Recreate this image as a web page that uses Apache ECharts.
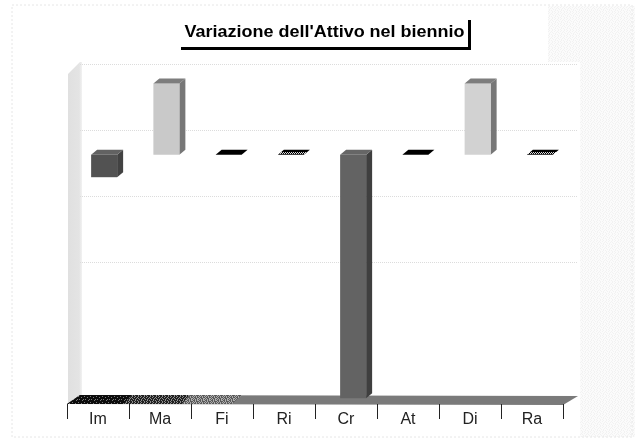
<!DOCTYPE html>
<html>
<head>
<meta charset="utf-8">
<style>
html, body { margin: 0; padding: 0; background: #fff; }
#chart { width: 635px; height: 441px; }
</style>
<script src="https://cdn.jsdelivr.net/npm/echarts@6/dist/echarts.min.js"></script>
</head>
<body>
<div id="chart"></div>
<script>
const categories = ['Im', 'Ma', 'Fi', 'Ri', 'Cr', 'At', 'Di', 'Ra'];
const values = [-340, 1075, 0, 0, -3680, 0, 1075, 0];
const titleText = "Variazione dell'Attivo nel biennio";

// small repeated tile, the scan of the original is dithered
const makeTile = (bg, fg, rows) => {
    const c = document.createElement('canvas');
    c.width = rows[0].length;
    c.height = rows.length;
    const ctx = c.getContext('2d');
    ctx.fillStyle = bg;
    ctx.fillRect(0, 0, c.width, c.height);
    ctx.fillStyle = fg;
    rows.forEach((row, y) => {
        row.split('').forEach((ch, x) => {
            if (ch === '#') ctx.fillRect(x, y, 1, 1);
        });
    });
    return { image: c, repeat: 'repeat' };
};
const sparse = ['#.....', '...#..', '......', '.#...#', '....#.', '......'];
const medium = ['#..#..', '..#..#', '#...#.', '.#.#..', '...#.#', '#.#...'];
const dense = ['#.#.#.', '.#..#.', '#.#..#', '.#.#.#', '#..#.#', '.#.#..'];
const stripes = ['......', '......', '.#.#.#', '#.#.#.', '......', '......'];

const floorDark = makeTile('#0c0c0c', '#7a7a7a', sparse);
const floorMid = makeTile('#202020', '#8c8c8c', medium);
const floorLight = makeTile('#5a5a5a', '#adadad', dense);
const paperGrey = makeTile('#fbfbfb', '#f2f2f2', medium);
const hatch = makeTile('#000000', '#d8d8d8', stripes);

// shading per category: front, side, top
const shades = {
    Im: ['#525252', '#424242', '#626262'],
    Ma: ['#c9c9c9', '#777777', '#7d7d7d'],
    Fi: ['#000000', '#000000', '#000000'],
    Ri: ['#000000', '#000000', hatch],
    Cr: ['#636363', '#3f3f3f', '#666666'],
    At: ['#000000', '#000000', '#000000'],
    Di: ['#d2d2d2', '#777777', '#7d7d7d'],
    Ra: ['#000000', '#000000', hatch]
};

// fake 3d: the bars stand in front of the wall plane where the axis lives
const shiftX = -7, shiftY = 24.5, barW = 26, depthX = 6, depthY = -5;

const renderBar = (params, api) => {
    const cat = api.value(0);
    const base = api.coord([cat, 0]);
    const end = api.coord([cat, api.value(1)]);
    const left = base[0] + shiftX - barW / 2;
    const right = left + barW;
    const y0 = base[1] + shiftY;
    const y1 = end[1] + shiftY;
    const topY = Math.min(y0, y1);
    const botY = Math.max(y0, y1);
    const c = shades[categories[cat]];
    const children = [];
    if (botY - topY > 0.5) {
        children.push({
            type: 'polygon',
            shape: { points: [[right, topY], [right + depthX, topY + depthY], [right + depthX, botY + depthY], [right, botY]] },
            style: { fill: c[1] }
        });
        children.push({
            type: 'rect',
            shape: { x: left, y: topY, width: barW, height: botY - topY },
            style: { fill: c[0] }
        });
    }
    children.push({
        type: 'polygon',
        shape: { points: [[left, topY], [left + depthX, topY + depthY], [right + depthX, topY + depthY], [right, topY]] },
        style: { fill: c[2] }
    });
    return { type: 'group', children: children };
};

const chart = echarts.init(document.getElementById('chart'));
chart.setOption({
    animation: false,
    backgroundColor: '#ffffff',
    textStyle: { fontFamily: 'Liberation Sans' },
    grid: [
        { left: 80, right: 57, top: 64, bottom: 46 },
        { left: 67, right: 72, top: 64, bottom: 37 }
    ],
    xAxis: [
        { type: 'category', gridIndex: 0, data: categories, axisLine: { show: false }, axisTick: { show: false }, axisLabel: { show: false }, splitLine: { show: false } },
        {
            type: 'category', gridIndex: 1, data: categories,
            axisLine: { show: false },
            axisTick: { show: true, alignWithLabel: false, length: 15, lineStyle: { color: '#222222', width: 1 } },
            axisLabel: { color: '#222222', fontSize: 16, margin: 8, interval: 0 }
        }
    ],
    yAxis: [
        {
            type: 'value', gridIndex: 0, min: -4000, max: 1000, interval: 1000,
            axisLine: { show: false }, axisTick: { show: false }, axisLabel: { show: false },
            // the line at -3000 does not show in the scan
            splitLine: { show: true, showMinLine: false, lineStyle: { color: ['transparent', '#dcdcdc', '#dcdcdc', '#dcdcdc', '#dcdcdc'], width: 1, type: 'dotted' } }
        },
        { type: 'value', gridIndex: 1, show: false }
    ],
    graphic: [
        // paper frame and the speckled strip on the right
        { type: 'rect', z: -10, shape: { x: 580, y: 62, width: 55, height: 375 }, style: { fill: paperGrey } },
        { type: 'rect', z: -10, shape: { x: 548, y: 6, width: 87, height: 56 }, style: { fill: paperGrey } },
        { type: 'rect', z: -9, shape: { x: 12, y: 5, width: 620, height: 432 }, style: { fill: 'none', stroke: '#e6e6e6', lineWidth: 1, lineDash: [2, 2] } },
        // left wall
        {
            type: 'polygon', z: -5,
            shape: { points: [[68, 74], [80, 62], [82, 62], [82, 395], [68, 404]] },
            style: {
                fill: new echarts.graphic.LinearGradient(0, 0, 1, 0, [
                    { offset: 0, color: '#e0e0e0' },
                    { offset: 0.8, color: '#e4e4e4' },
                    { offset: 1, color: '#f2f2f2' }
                ])
            }
        },
        // floor
        {
            type: 'polygon', z: -5,
            shape: { points: [[67, 404], [80, 395], [578, 396], [563, 405]] },
            style: { fill: '#7a7a7a' }
        },
        {
            type: 'polygon', z: -4,
            shape: { points: [[67, 404], [80, 395], [132, 395], [124, 404]] },
            style: { fill: floorDark }
        },
        {
            type: 'polygon', z: -4,
            shape: { points: [[124, 404], [132, 395], [190, 395], [182, 404]] },
            style: { fill: floorMid }
        },
        {
            type: 'polygon', z: -4,
            shape: { points: [[182, 404], [190, 395], [242, 395], [232, 404]] },
            style: { fill: floorLight }
        },
        // title box
        { type: 'rect', z: 5, shape: { x: 181, y: 20, width: 290, height: 30 }, style: { fill: '#000000' } },
        { type: 'rect', z: 6, shape: { x: 180, y: 19, width: 288, height: 28 }, style: { fill: '#ffffff' } },
        {
            type: 'text', z: 7, x: 324.5, y: 32, scaleX: 1.09,
            style: { text: titleText, fill: '#000000', font: 'bold 16.5px "Liberation Sans"', align: 'center', verticalAlign: 'middle' }
        }
    ],
    series: [{
        type: 'custom',
        xAxisIndex: 0,
        yAxisIndex: 0,
        clip: false,
        data: values.map((v, i) => [i, v]),
        encode: { x: 0, y: 1 },
        renderItem: renderBar,
        z: 3
    }]
});
</script>
</body>
</html>
